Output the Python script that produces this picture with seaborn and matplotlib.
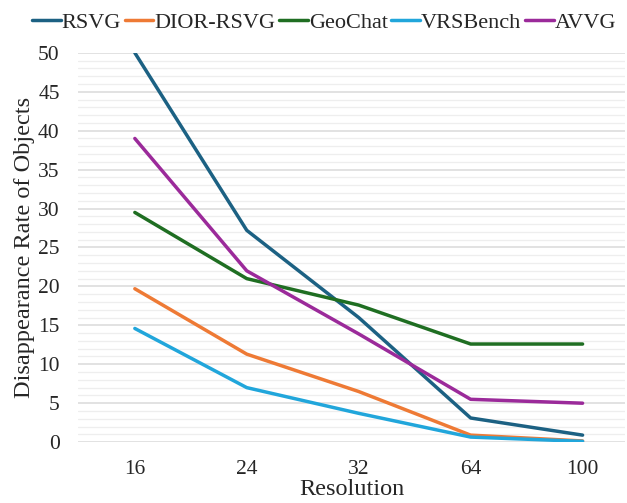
import matplotlib
import matplotlib.pyplot as plt

matplotlib.use("Agg")
import numpy as np
import pandas as pd
import seaborn as sns
from matplotlib.ticker import MultipleLocator

resolutions = ["16", "24", "32", "64", "100"]
rsvg = [50.0, 27.2, 16.0, 3.1, 0.9]
dior_rsvg = [19.7, 11.3, 6.5, 0.9, 0.15]
geochat = [29.5, 21.0, 17.6, 12.6, 12.6]
vrsbench = [14.6, 7.0, 3.7, 0.65, 0.1]
avvg = [39.0, 22.0, 13.9, 5.5, 5.0]

series = {
    "RSVG": rsvg,
    "DIOR-RSVG": dior_rsvg,
    "GeoChat": geochat,
    "VRSBench": vrsbench,
    "AVVG": avvg,
}
palette = {
    "RSVG": "#1C6183",
    "DIOR-RSVG": "#EE7A35",
    "GeoChat": "#1F6E22",
    "VRSBench": "#21A6DB",
    "AVVG": "#9B2A9A",
}

df = pd.DataFrame(
    [(r, v, name) for name, vals in series.items() for r, v in zip(resolutions, vals)],
    columns=["Resolution", "Rate", "Model"],
)

sns.set_style("white")
plt.rcParams["font.family"] = ["Liberation Serif", "DejaVu Serif"]

fig, ax = plt.subplots(figsize=(6.27, 5.03), dpi=100)
sns.lineplot(
    data=df, x="Resolution", y="Rate", hue="Model", palette=palette,
    linewidth=2.5, ax=ax, sort=False,
)

ax.set_ylim(0, 50)
ax.set_xlim(-0.51, 4.38)
ax.yaxis.set_major_locator(MultipleLocator(5))
ax.yaxis.set_minor_locator(MultipleLocator(1))
ax.grid(axis="y", which="major", color="#dddddd", linewidth=1.2)
ax.grid(axis="y", which="minor", color="#eeeeee", linewidth=0.9)
ax.set_axisbelow(True)
for s in ax.spines.values():
    s.set_visible(False)
ax.tick_params(axis="both", length=0, labelsize=15.5)
ax.tick_params(axis="y", pad=13)
ax.tick_params(axis="x", pad=13)
ax.set_xlabel("Resolution", fontsize=17.5, labelpad=0)
ax.set_ylabel("Disappearance Rate of Objects", fontsize=17.5, labelpad=2)

ax.legend(
    loc="center", bbox_to_anchor=(0.45, 1.078), ncol=5, frameon=False,
    fontsize=16, handlelength=1.3, handletextpad=0.05, columnspacing=0.15,
    borderaxespad=0.0, borderpad=0.0,
)

fig.subplots_adjust(left=0.124, right=0.997, top=0.895, bottom=0.121)
fig.savefig("out.png", dpi=100)
